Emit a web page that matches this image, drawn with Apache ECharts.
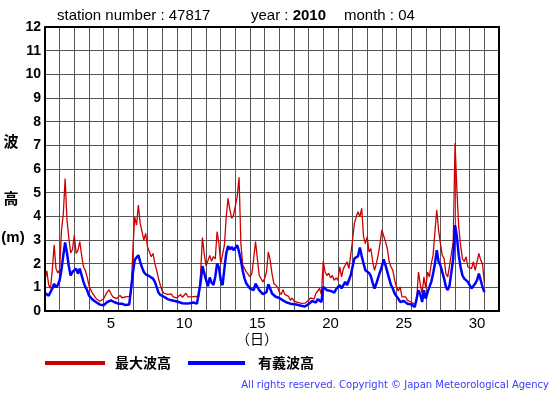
<!DOCTYPE html>
<html><head><meta charset="utf-8">
<script src="https://cdn.jsdelivr.net/npm/echarts@6/dist/echarts.min.js"></script>
<style>html,body{margin:0;padding:0;background:#fff}#c{width:555px;height:395px}</style>
</head><body><div id="c"></div>
<script>
const stationNumber = '47817';
const year = '2010';
const month = '04';
const dayCategories = Array.from({length: 31}, (_, i) => String(i + 1));
const dayTickLabels = ['5', '10', '15', '20', '25', '30'];
const yTicks = [0, 12, 1];
const stepHours = 3;
// 最大波高 (m), every 3 hours from Apr 1 00:00
const maxWave = [
1.30,1.70,1.10,0.95,1.75,2.80,1.80,1.60,
1.75,3.40,4.10,5.60,3.85,3.10,2.45,2.60,
3.20,2.43,2.57,2.93,2.36,1.87,1.72,1.44,
1.09,0.88,0.74,0.66,0.52,0.45,0.41,0.38,
0.52,0.66,0.80,0.90,0.74,0.60,0.66,0.52,
0.60,0.66,0.56,0.52,0.60,0.55,0.62,0.74,
2.60,3.98,3.63,4.48,3.70,3.35,3.00,3.28,
2.71,2.64,2.29,2.43,2.00,1.72,1.37,1.09,
0.85,0.75,0.80,0.70,0.65,0.72,0.60,0.62,
0.55,0.62,0.70,0.58,0.65,0.75,0.60,0.55,
0.60,0.55,0.62,0.58,0.60,1.60,3.10,2.40,
1.90,1.85,2.35,2.10,2.30,2.20,3.35,2.85,
2.00,1.94,2.78,3.98,4.76,4.27,3.91,4.05,
4.12,4.83,5.65,2.85,1.94,1.79,1.65,1.72,
1.44,1.58,2.22,2.93,2.22,1.51,1.58,1.23,
1.37,1.65,2.50,2.15,1.58,1.16,1.09,1.02,
0.80,0.70,0.90,0.70,0.66,0.62,0.45,0.55,
0.42,0.40,0.36,0.35,0.32,0.25,0.33,0.38,
0.45,0.55,0.62,0.50,0.75,0.70,0.95,0.70,
2.10,1.65,1.50,1.60,1.40,1.50,1.30,1.40,
1.30,1.87,1.44,1.79,1.72,2.08,1.79,2.36,
3.00,3.70,3.98,4.19,3.98,4.34,3.14,2.85,
3.14,2.50,2.64,2.08,1.72,2.00,2.36,2.85,
3.42,3.49,2.93,2.64,2.08,1.87,1.72,1.30,
1.02,0.85,1.02,0.60,0.52,0.60,0.45,0.52,
0.38,0.31,0.28,0.42,1.65,1.13,0.74,1.44,
0.95,1.65,1.44,2.00,2.36,3.35,4.27,3.42,
2.85,2.36,2.22,1.58,1.44,1.93,2.43,2.92,
7.10,5.10,3.56,2.78,2.22,2.08,2.29,1.86,
1.86,1.79,2.08,1.72,2.08,2.43,2.15,2.00,
1.16
];
// 有義波高 (m)
const sigWave = [
0.76,0.70,0.65,0.60,0.95,1.15,1.00,1.10,
1.30,1.75,2.35,2.90,2.45,1.90,1.50,1.65,
1.65,1.79,1.58,1.79,1.51,1.23,1.02,0.88,
0.66,0.57,0.48,0.43,0.37,0.31,0.27,0.24,
0.24,0.31,0.38,0.43,0.45,0.41,0.37,0.34,
0.31,0.34,0.31,0.27,0.25,0.24,0.27,0.34,
1.60,2.15,2.26,2.36,2.08,1.84,1.65,1.55,
1.51,1.47,1.41,1.37,1.23,1.02,0.78,0.68,
0.66,0.60,0.55,0.50,0.48,0.45,0.44,0.42,
0.40,0.38,0.35,0.33,0.35,0.32,0.30,0.33,
0.34,0.36,0.33,0.31,0.34,1.20,1.90,1.60,
1.30,1.05,1.42,1.20,1.10,1.44,2.00,1.85,
1.30,1.09,1.79,2.43,2.74,2.60,2.71,2.57,
2.64,2.78,2.50,2.15,1.70,1.37,1.16,1.09,
0.95,1.02,0.88,1.16,1.23,0.88,0.90,0.71,
0.66,0.80,1.13,0.95,0.74,0.66,0.60,0.52,
0.55,0.50,0.45,0.40,0.36,0.35,0.31,0.30,
0.29,0.28,0.26,0.25,0.22,0.20,0.19,0.24,
0.30,0.36,0.42,0.40,0.36,0.50,0.42,0.38,
1.02,0.98,0.88,0.82,0.85,0.80,0.78,0.92,
0.95,1.09,0.95,1.09,1.23,1.09,1.16,1.51,
1.87,2.22,2.26,2.32,2.68,2.32,2.01,1.72,
1.65,1.61,1.47,1.19,0.95,1.16,1.41,1.65,
1.87,2.18,1.94,1.65,1.37,1.09,0.95,0.74,
0.62,0.52,0.38,0.45,0.42,0.34,0.31,0.37,
0.28,0.21,0.17,0.24,0.88,0.71,0.38,0.88,
0.52,0.80,1.02,1.23,1.58,2.00,2.57,2.08,
1.93,1.65,1.37,1.02,0.88,1.09,1.65,2.22,
3.63,3.14,2.36,1.86,1.51,1.37,1.37,1.23,
1.23,0.95,1.02,1.16,1.30,1.58,1.30,1.02,
0.80
];
const legendNames = ['最大波高', '有義波高'];

const toPairs = arr => arr.map((v, i) => [i * stepHours / 24, v]);
const latin = 'Liberation Sans, Arial, sans-serif';
const cjk = 'Noto Sans CJK JP, sans-serif';

const chart = echarts.init(document.getElementById('c'), null, {renderer: 'canvas'});
chart.setOption({
  animation: false,
  backgroundColor: '#fff',
  grid: {left: 45, right: 56, top: 27, bottom: 84, show: true, borderColor: '#000', borderWidth: 2, backgroundColor: 'transparent', z: 3},
  xAxis: [
    {type: 'value', min: 0, max: dayCategories.length, interval: 1, position: 'bottom',
     axisLine: {show: false}, axisTick: {show: false}, axisLabel: {show: false},
     splitLine: {show: true, lineStyle: {color: '#555', width: 1}}},
    {type: 'category', data: dayCategories, position: 'bottom', boundaryGap: true,
     axisLine: {show: false}, axisTick: {show: false}, splitLine: {show: false},
     axisLabel: {interval: (i, v) => dayTickLabels.includes(v), color: '#000', fontSize: 15, fontFamily: latin, margin: 5}}
  ],
  yAxis: {type: 'value', min: yTicks[0], max: yTicks[1], interval: yTicks[2],
    axisLine: {show: false}, axisTick: {show: false},
    axisLabel: {color: '#000', fontSize: 14, fontWeight: 'bold', fontFamily: latin, margin: 4},
    splitLine: {show: true, lineStyle: {color: '#555', width: 1}}},
  series: [
    {name: legendNames[0], type: 'line', xAxisIndex: 0, data: toPairs(maxWave), showSymbol: false,
     lineStyle: {color: '#cc0000', width: 1.3}, itemStyle: {color: '#cc0000'}, z: 2},
    {name: legendNames[1], type: 'line', xAxisIndex: 0, data: toPairs(sigWave), showSymbol: false,
     lineStyle: {color: '#0000ff', width: 2.5}, itemStyle: {color: '#0000ff'}, z: 2}
  ],
  graphic: [
    {type: 'text', left: 57, top: 8, style: {text: 'station number : ' + stationNumber, font: '15px ' + latin, fill: '#000'}},
    {type: 'text', left: 251, top: 8, style: {text: '{a|year : }{b|' + year + '}', rich: {a: {fontSize: 15, fontFamily: latin, fill: '#000'}, b: {fontSize: 15, fontFamily: latin, fontWeight: 'bold', fill: '#000'}}}},
    {type: 'text', left: 344, top: 8, style: {text: 'month : ' + month, font: '15px ' + latin, fill: '#000'}},
    {type: 'text', x: 11, y: 141, style: {text: '波', font: 'bold 15px ' + cjk, fill: '#000', align: 'center', verticalAlign: 'middle'}},
    {type: 'text', x: 11, y: 198, style: {text: '高', font: 'bold 15px ' + cjk, fill: '#000', align: 'center', verticalAlign: 'middle'}},
    {type: 'text', x: 13, y: 238, style: {text: '(m)', font: 'bold 15px ' + latin, fill: '#000', align: 'center', verticalAlign: 'middle'}},
    {type: 'text', x: 257, y: 339, style: {text: '（日）', font: '14px ' + cjk, fill: '#000', align: 'center', verticalAlign: 'middle'}},
    {type: 'line', shape: {x1: 45, y1: 363, x2: 105, y2: 363}, style: {stroke: '#cc0000', lineWidth: 4}},
    {type: 'text', x: 115, y: 363, style: {text: legendNames[0], font: 'bold 14px ' + cjk, fill: '#000', verticalAlign: 'middle'}},
    {type: 'line', shape: {x1: 188, y1: 363, x2: 245, y2: 363}, style: {stroke: '#0000ff', lineWidth: 4}},
    {type: 'text', x: 258, y: 363, style: {text: legendNames[1], font: 'bold 14px ' + cjk, fill: '#000', verticalAlign: 'middle'}},
    {type: 'text', x: 549, y: 385, style: {text: 'All rights reserved. Copyright © Japan Meteorological Agency', font: '10px DejaVu Sans, sans-serif', fill: '#3a3aff', align: 'right', verticalAlign: 'middle'}}
  ]
});
</script></body></html>
